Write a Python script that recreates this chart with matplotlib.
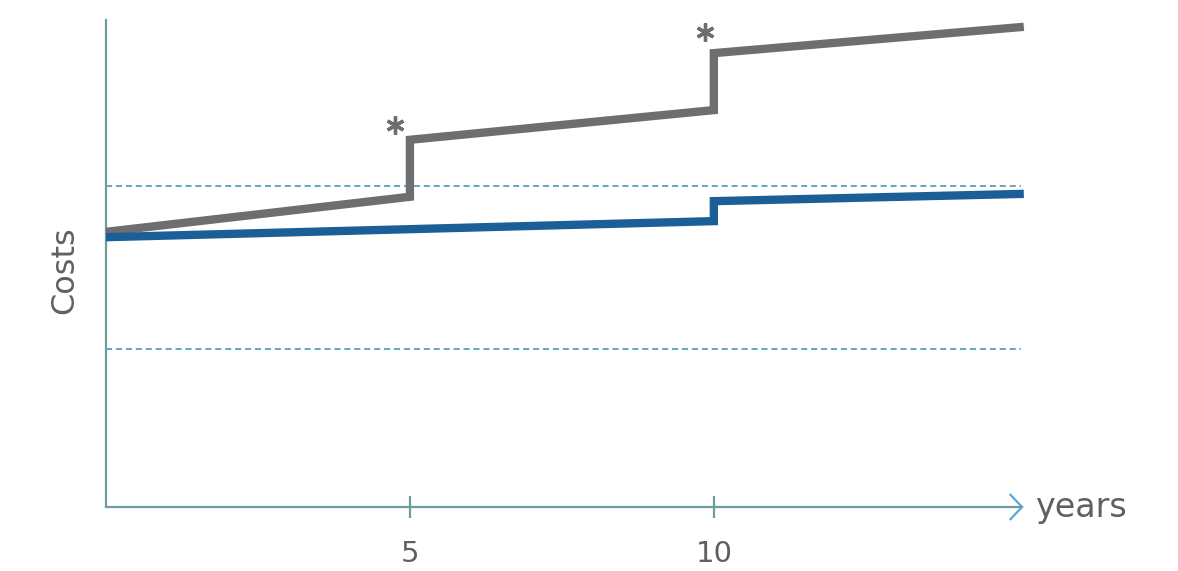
import matplotlib
matplotlib.use("Agg")
import matplotlib.pyplot as plt
from matplotlib.transforms import ScaledTranslation

# ---- data ----
years_gray = [0, 5, 5, 10, 10, 15.1]
cost_gray = [56.5, 63.7, 75.4, 81.5, 93.2, 98.6]
years_blue = [0, 10, 10, 15.1]
cost_blue = [55.4, 58.7, 62.8, 64.3]
ref_levels = [65.9, 32.4]
ref_end = 15.05
step_years = [5, 10]
step_tops = [75.4, 93.2]
xtick_vals = [5, 10]
xtick_labels = ["5", "10"]
x_label = "years"
y_label = "Costs"

W, H = 1178, 571
fig = plt.figure(figsize=(W / 100, H / 100), dpi=100)
ax = fig.add_axes([106 / W, 64 / H, (1022 - 106) / W, (507 - 20) / H])
ax.set_xlim(0, 15.07)
ax.set_ylim(0, 100)

axis_col = "#6f9ca3"
txt_col = "#606060"
for s in ["top", "right"]:
    ax.spines[s].set_visible(False)
for s in ["left", "bottom"]:
    ax.spines[s].set_color(axis_col)
    ax.spines[s].set_linewidth(1.6)

ax.set_yticks([])
ax.set_xticks(xtick_vals)
ax.set_xticklabels(xtick_labels, fontsize=21, color=txt_col)
ax.tick_params(axis="x", direction="inout", length=16, width=1.6,
               color=axis_col, pad=16)

# dashed reference lines
for lv in ref_levels:
    ax.plot([0, ref_end], [lv, lv], color="#3d8db5", lw=1.1,
            dashes=(4, 2.5), clip_on=False, zorder=2)

# series
ax.plot(years_gray, cost_gray, color="#6e6e70", lw=6.0,
        solid_joinstyle="miter", solid_capstyle="butt", clip_on=False, zorder=3)
ax.plot(years_blue, cost_blue, color="#1b5e98", lw=6.0,
        solid_joinstyle="miter", solid_capstyle="butt", clip_on=False, zorder=4)

# asterisks above the steps
offsets = [(-11, 11), (-6, 15)]
for x, y, off in zip(step_years, step_tops, offsets):
    ax.plot([x], [y], marker=(6, 2, 0), markersize=13, mew=2.4,
            color="#6e6e70", linestyle="none", clip_on=False,
            transform=ax.transData + ScaledTranslation(
                off[0] / 72, off[1] / 72, fig.dpi_scale_trans))

# arrow head on x axis (open chevron)
ax.plot([0.9875, 1.0, 0.9875], [0.025, 0.0, -0.025], transform=ax.transAxes,
        color="#5aa6d6", lw=1.6, clip_on=False, solid_joinstyle="miter")

ax.text(1.014, 0.0, x_label, transform=ax.transAxes, ha="left", va="center",
        fontsize=24, color=txt_col)
fig.text(65 / W, 1 - 270 / H, y_label, rotation=90, ha="center", va="center",
         fontsize=23, color=txt_col)

fig.savefig("out.png", dpi=100, facecolor="white")
